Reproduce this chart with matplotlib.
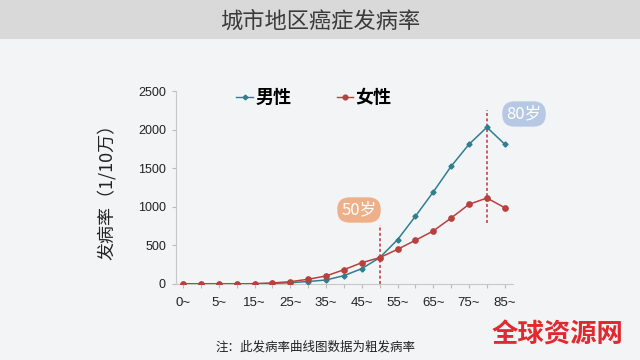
import matplotlib
matplotlib.use("Agg")
import matplotlib.pyplot as plt
from matplotlib.patches import Rectangle
from matplotlib.lines import Line2D

plt.rcParams['font.family'] = ['Noto Sans CJK SC', 'DejaVu Sans']

# 数据 (每10万人发病率, 读图估计)
ages = ["0~", "1~", "5~", "10~", "15~", "20~", "25~", "30~", "35~", "40~",
        "45~", "50~", "55~", "60~", "65~", "70~", "75~", "80~", "85~"]
male = [3, 1, 2, 2, 3, 7, 17, 32, 52, 108, 199, 341, 574, 877, 1192, 1525, 1810, 2030, 1810]
female = [3, 2, 2, 2, 4, 13, 30, 61, 104, 185, 276, 341, 449, 566, 687, 855, 1032, 1114, 988]
yticks = [0, 500, 1000, 1500, 2000, 2500]

male_color = "#2f7f8f"
female_color = "#b8403f"

fig = plt.figure(figsize=(6.4, 3.6), dpi=100)
fig.patch.set_facecolor("#f3f4f6")

# 顶部标题栏
fig.patches.append(Rectangle((0, 1 - 39 / 360), 1, 39 / 360, transform=fig.transFigure,
                             facecolor="#d9d9d9", edgecolor="none", zorder=0))
fig.text(0.5, 1 - 21 / 360, "城市地区癌症发病率", ha="center", va="center",
         fontsize=16, color="#3a3a3a")

ax = fig.add_axes([175.7 / 640, 1 - 284 / 360, 337.3 / 640, 193 / 360])
ax.set_facecolor("none")

x = list(range(len(ages)))
ax.plot(x, male, color=male_color, lw=1.1, marker="D", ms=2.6, label="男性", zorder=3)
ax.plot(x, female, color=female_color, lw=1.1, marker="o", ms=3.8, label="女性", zorder=3)

ax.set_xlim(-0.41, 18.46)
ax.set_ylim(0, 2500)
ax.set_yticks(yticks)
ax.set_xticks(x)
ax.set_xticklabels([a if i % 2 == 0 else "" for i, a in enumerate(ages)])
for lab in ax.get_xticklabels() + ax.get_yticklabels():
    lab.set_fontfamily(["Liberation Sans", "DejaVu Sans"])
ax.tick_params(axis="x", length=3, labelsize=9.5, colors="#222222", pad=6)
ax.tick_params(axis="x", color="#bbbbbb")
ax.tick_params(axis="y", length=3, labelsize=9, colors="#222222", pad=4)
ax.tick_params(axis="y", color="#bbbbbb")

for s in ["top", "right"]:
    ax.spines[s].set_visible(False)
ax.spines["left"].set_color("#c8c8c8")
ax.spines["bottom"].set_color("#c8c8c8")

ax.set_ylabel("发病率（1/10万）", fontsize=13, color="#222222", labelpad=16)

# 图例
handles = [Line2D([], [], color=male_color, lw=1.0, marker="D", ms=2.4),
           Line2D([], [], color=female_color, lw=1.0, marker="o", ms=3.4)]
ax.legend(handles, ["男性", "女性"], loc="upper center", bbox_to_anchor=(0.41, 1.1),
          ncol=2, frameon=False, handlelength=0.9, handletextpad=0.15, columnspacing=2.5,
          prop={"size": 13, "weight": "bold"})

# 50岁 / 80岁 标注
ax.plot([11, 11], [0, 760], color="#b83c3a", lw=1.1, ls=(0, (2, 1.5)), zorder=2)
ax.plot([17, 17], [790, 2260], color="#b83c3a", lw=1.1, ls=(0, (2, 1.5)), zorder=2)

fig.text(359 / 640, 1 - 210 / 360, "50岁", ha="center", va="center", fontsize=12,
         color="white", zorder=6,
         bbox=dict(boxstyle="round,pad=0.25,rounding_size=0.75", fc="#eeb089", ec="none"))
fig.text(524 / 640, 1 - 114 / 360, "80岁", ha="center", va="center", fontsize=12,
         color="white", zorder=6,
         bbox=dict(boxstyle="round,pad=0.25,rounding_size=0.75", fc="#b7c8e4", ec="none"))

# 注释与水印
fig.text(315 / 640, 1 - 347 / 360, "注：此发病率曲线图数据为粗发病率", ha="center", va="center",
         fontsize=9, color="#222222")
fig.text(558 / 640, 1 - 335 / 360, "全球资源网", ha="center", va="center",
         fontsize=19, fontweight="bold", color="#e02a2f")

fig.savefig("out.png", dpi=100, facecolor=fig.get_facecolor())
